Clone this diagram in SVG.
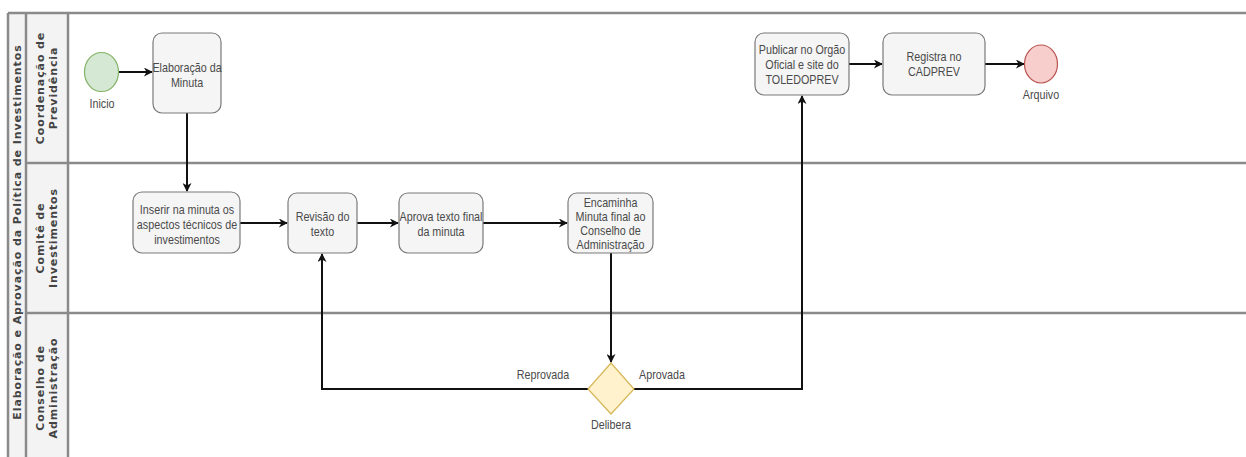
<svg xmlns="http://www.w3.org/2000/svg" width="1246" height="457" viewBox="0 0 1246 457">
<style>
.hdr{fill:#f3f3f3;}
.sep{stroke:#8a8a8a;stroke-width:2.5;fill:none;}
.box{fill:#f5f5f5;stroke:#7a7a7a;stroke-width:1.2;}
.t{font-family:"Liberation Sans",Arial,sans-serif;font-size:12.5px;fill:#4a4a4a;text-anchor:middle;}
.lbl{font-family:"DejaVu Sans",Verdana,sans-serif;font-size:11px;font-weight:bold;fill:#444;text-anchor:middle;letter-spacing:0.9px;}
.e{stroke:#111;stroke-width:2;fill:none;}
</style>
<defs>
<marker id="ah" viewBox="0 0 10 10" refX="9" refY="5" markerWidth="10" markerHeight="9" orient="auto" markerUnits="userSpaceOnUse">
<path d="M0,0 L10,5 L0,10 L3,5 Z" fill="#111"/>
</marker>
</defs>
<rect x="0" y="0" width="1246" height="457" fill="#ffffff"/>
<g id="pool">
<rect class="hdr" x="8" y="13" width="60" height="450"/>
<line class="sep" x1="8" y1="13" x2="1246" y2="13"/>
<line class="sep" x1="26" y1="163" x2="1246" y2="163"/>
<line class="sep" x1="26" y1="313" x2="1246" y2="313"/>
<line class="sep" x1="8" y1="13" x2="8" y2="457"/>
<line class="sep" x1="26" y1="13" x2="26" y2="457"/>
<line class="sep" x1="68" y1="13" x2="68" y2="457"/>
<text class="lbl" transform="translate(21,232) rotate(-90)">Elaboração e Aprovação da Política de Investimentos</text>
</g>
<g id="lane1">
<text class="lbl" transform="translate(47,88) rotate(-90)"><tspan x="0" y="-3">Coordenação de</tspan><tspan x="0" y="10">Previdência</tspan></text>
</g>
<g id="lane2">
<text class="lbl" transform="translate(47,238) rotate(-90)"><tspan x="0" y="-3">Comitê de</tspan><tspan x="0" y="10">Investimentos</tspan></text>
</g>
<g id="lane3">
<text class="lbl" transform="translate(47,388) rotate(-90)"><tspan x="0" y="-3">Conselho de</tspan><tspan x="0" y="10">Administração</tspan></text>
</g>
<g id="connectors">
<line class="e" x1="119" y1="72" x2="152" y2="72" marker-end="url(#ah)"/>
<line class="e" x1="187" y1="113" x2="187" y2="191" marker-end="url(#ah)"/>
<line class="e" x1="240" y1="223" x2="287" y2="223" marker-end="url(#ah)"/>
<line class="e" x1="357" y1="223" x2="398" y2="223" marker-end="url(#ah)"/>
<line class="e" x1="483" y1="223" x2="567" y2="223" marker-end="url(#ah)"/>
<line class="e" x1="611" y1="253" x2="611" y2="362" marker-end="url(#ah)"/>
<polyline class="e" points="588,389 322,389 322,254" marker-end="url(#ah)"/>
<polyline class="e" points="634,389 802,389 802,96" marker-end="url(#ah)"/>
<line class="e" x1="849" y1="64" x2="882" y2="64" marker-end="url(#ah)"/>
<line class="e" x1="985" y1="64" x2="1024" y2="64" marker-end="url(#ah)"/>
<text class="t" transform="translate(543,379) scale(0.86,1)">Reprovada</text>
<text class="t" transform="translate(662,379) scale(0.86,1)">Aprovada</text>
</g>
<g id="inicio">
<ellipse cx="101.5" cy="72" rx="17" ry="19.5" fill="#d5e8d4" stroke="#82b366" stroke-width="1.2"/>
<text class="t" transform="translate(102,108) scale(0.86,1)" font-size="13">Inicio</text>
</g>
<g id="elaboracao">
<rect class="box" x="153" y="33" width="68" height="80" rx="9"/>
<text class="t" transform="translate(187,0) scale(0.86,1)"><tspan x="0" y="72">Elaboração da</tspan><tspan x="0" y="87">Minuta</tspan></text>
</g>
<g id="inserir">
<rect class="box" x="133" y="192" width="107" height="61" rx="9"/>
<text class="t" transform="translate(187,0) scale(0.86,1)"><tspan x="0" y="214">Inserir na minuta os</tspan><tspan x="0" y="229">aspectos técnicos de</tspan><tspan x="0" y="244">investimentos</tspan></text>
</g>
<g id="revisao">
<rect class="box" x="288" y="193" width="69" height="60" rx="9"/>
<text class="t" transform="translate(322.5,0) scale(0.86,1)"><tspan x="0" y="221">Revisão do</tspan><tspan x="0" y="236">texto</tspan></text>
</g>
<g id="aprova">
<rect class="box" x="399" y="193" width="84" height="60" rx="9"/>
<text class="t" transform="translate(441,0) scale(0.86,1)"><tspan x="0" y="221">Aprova texto final</tspan><tspan x="0" y="236">da minuta</tspan></text>
</g>
<g id="encaminha">
<rect class="box" x="568" y="193" width="85" height="60" rx="9"/>
<text class="t" transform="translate(610.5,0) scale(0.86,1)"><tspan x="0" y="207">Encaminha</tspan><tspan x="0" y="221">Minuta final ao</tspan><tspan x="0" y="235">Conselho de</tspan><tspan x="0" y="249">Administração</tspan></text>
</g>
<g id="delibera">
<polygon points="611,363 634,389 611,414 588,389" fill="#fff2cc" stroke="#d6b656" stroke-width="1.2"/>
<text class="t" transform="translate(611,429) scale(0.86,1)">Delibera</text>
</g>
<g id="publicar">
<rect class="box" x="755" y="33" width="94" height="62" rx="9"/>
<text class="t" transform="translate(802,0) scale(0.86,1)"><tspan x="0" y="54">Publicar no Orgão</tspan><tspan x="0" y="69">Oficial e site do</tspan><tspan x="0" y="84">TOLEDOPREV</tspan></text>
</g>
<g id="registra">
<rect class="box" x="883" y="33" width="102" height="62" rx="9"/>
<text class="t" transform="translate(934,0) scale(0.86,1)"><tspan x="0" y="61">Registra no</tspan><tspan x="0" y="76">CADPREV</tspan></text>
</g>
<g id="arquivo">
<ellipse cx="1041" cy="64" rx="16.5" ry="19" fill="#f8cecc" stroke="#b85450" stroke-width="1.2"/>
<text class="t" transform="translate(1041,99) scale(0.86,1)" font-size="13">Arquivo</text>
</g>
</svg>
